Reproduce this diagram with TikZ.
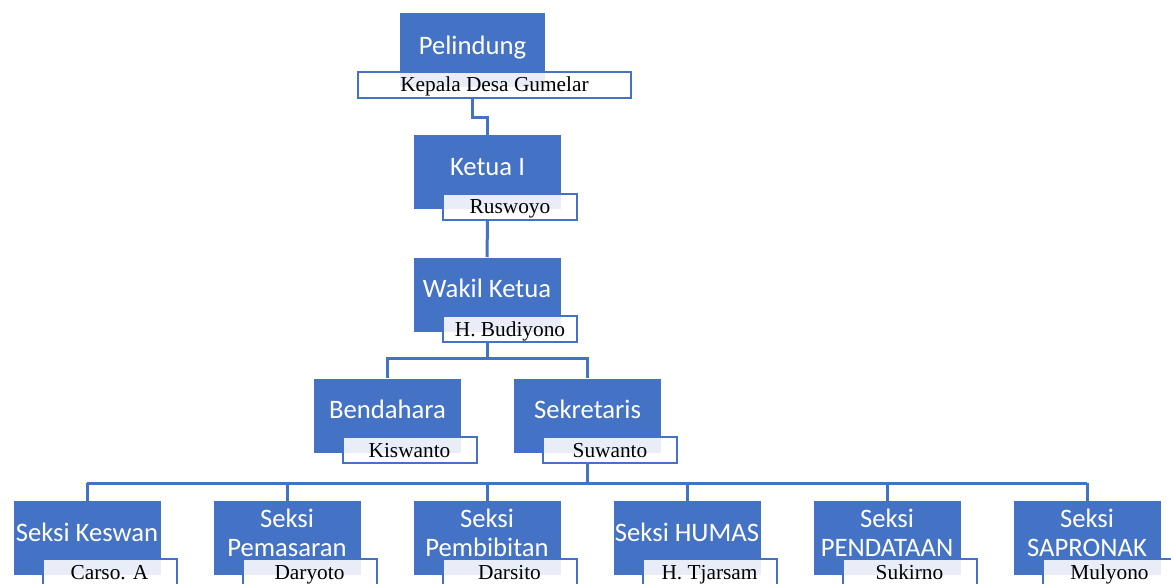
\documentclass[tikz,border=0pt]{standalone}
\usepackage{fontspec}
\setmainfont{Liberation Serif}
\newfontfamily\carlito{Carlito}
\definecolor{obl}{HTML}{4472C4}
\begin{document}
\begin{tikzpicture}[x=0.75pt,y=-0.75pt,
  bluebox/.style={rectangle, fill=obl, minimum width=110.25pt, minimum height=55.5pt, inner sep=0pt},
  bluetext/.style={text=white, font=\carlito\fontsize{20}{21.75}\selectfont, align=center, inner sep=0pt, anchor=base},
  namebox/.style={rectangle, draw=obl, line width=1.5pt, fill=white, fill opacity=0.88, text opacity=1,
     minimum width=100.5pt, minimum height=19.5pt, inner sep=0pt, text height=12pt, text depth=1.5pt,
     font=\fontsize{16}{17}\selectfont},
  conn/.style={draw=obl, line width=2.25pt}]
\clip (0,0) rectangle (1171,583);
% top levels
\node[bluebox, minimum width=108.75pt] (pel) at (472.5,50) {};
\node[bluetext] (pelt) at (472.5,54) {Pelindung};
\node[namebox, minimum width=204.75pt] (peln) at (494.5,84.5) {Kepala Desa Gumelar};

\node[bluebox] (ket) at (487.5,172) {};
\node[bluetext] (kett) at (487.5,175) {Ketua I};
\node[namebox] (ketn) at (510,206.5) {Ruswoyo};

\node[bluebox] (wak) at (487,294.5) {};
\node[bluetext] (wakt) at (487,297) {Wakil Ketua};
\node[namebox] (wakn) at (510,329) {H. Budiyono};

\node[bluebox] (ben) at (387.5,415.5) {};
\node[bluetext] (bent) at (387.5,418) {Bendahara};
\node[namebox] (benn) at (409.5,450) {Kiswanto};

\node[bluebox] (sek) at (587.5,415.5) {};
\node[bluetext] (sekt) at (587.5,418) {Sekretaris};
\node[namebox] (sekn) at (610,450) {Suwanto};

% bottom row
\foreach \i/\t/\ty/\n in {1/{Seksi Keswan}/541/{Carso. A},
                          2/{Seksi\\Pemasaran}/556/{Daryoto},
                          3/{Seksi\\Pembibitan}/556/{Darsito},
                          4/{Seksi HUMAS}/541/{H. Tjarsam},
                          5/{Seksi\\PENDATAAN}/556/{Sukirno},
                          6/{Seksi\\SAPRONAK}/556/{Mulyono}}{
  \node[bluebox] (s\i) at ({87+200*(\i-1)},538) {};
  \node[bluetext] (s\i t) at ({87+200*(\i-1)},\ty) {\t};
  \node[namebox] (s\i n) at ({109.5+200*(\i-1)},572) {\n};
}

% connectors
\draw[conn] (pel.center |- peln.south) -- ++(0,19) -| (ket.north);
\draw[conn] (ket.center |- ketn.south) -- (wak.north);
\coordinate (j1) at (487,358);
\draw[conn] (wak.center |- wakn.south) -- (j1);
\draw[conn] (ben.north) |- (j1) -| (sek.north);
\coordinate (j2) at (587.5,483);
\draw[conn] (sek.center |- sekn.south) -- (j2);
\draw[conn] (s1.north |- j2) -- (s6.north |- j2);
\foreach \i in {1,...,6}{
  \draw[conn] (s\i.north) -- (s\i.north |- j2);
}
\end{tikzpicture}
\end{document}
